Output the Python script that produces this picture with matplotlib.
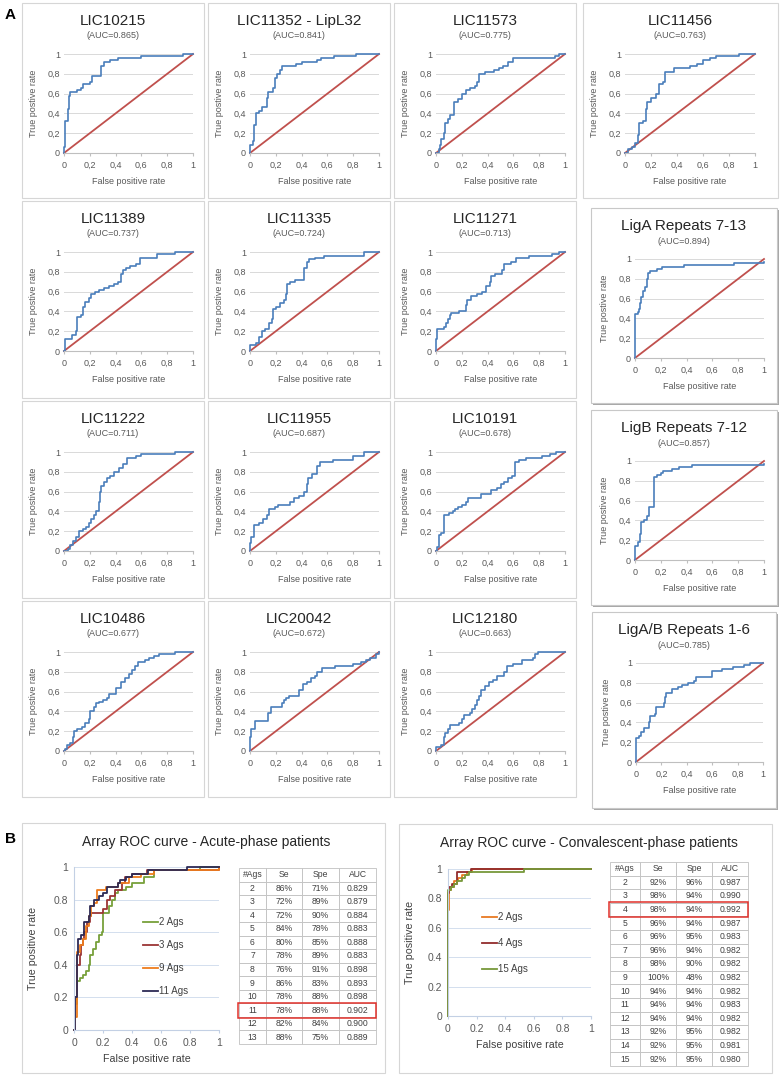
import matplotlib.pyplot as plt
from matplotlib.patches import Rectangle

plt.rcParams['font.family'] = ['Liberation Sans', 'DejaVu Sans']

W, H = 780, 1078

# ---------------- Panel A: curvas ROC por antigeno (fpr, tpr) ----------------
lic10215_fpr = [0, 0, 0.01, 0.03, 0.04, 0.05, 0.10, 0.13, 0.15, 0.20, 0.22, 0.29, 0.31, 0.36, 0.42, 0.60, 0.92, 1]
lic10215_tpr = [0, 0.06, 0.32, 0.44, 0.58, 0.62, 0.64, 0.66, 0.70, 0.72, 0.78, 0.88, 0.92, 0.94, 0.96, 0.98, 1.0, 1]

lic11352_fpr = [0, 0, 0.02, 0.03, 0.05, 0.07, 0.09, 0.13, 0.14, 0.18, 0.19, 0.21, 0.23, 0.25, 0.36, 0.40, 0.52, 0.55, 0.65, 0.82, 1]
lic11352_tpr = [0, 0.08, 0.12, 0.28, 0.40, 0.42, 0.46, 0.56, 0.62, 0.66, 0.76, 0.80, 0.84, 0.88, 0.90, 0.92, 0.94, 0.96, 0.98, 1.0, 1]

lic11573_fpr = [0, 0.02, 0.03, 0.04, 0.06, 0.07, 0.09, 0.11, 0.14, 0.14, 0.17, 0.20, 0.23, 0.26, 0.30, 0.32, 0.33,
                0.38, 0.45, 0.49, 0.52, 0.56, 0.60, 0.92, 0.95, 1]
lic11573_tpr = [0, 0.04, 0.08, 0.14, 0.20, 0.30, 0.34, 0.38, 0.40, 0.52, 0.55, 0.60, 0.64, 0.66, 0.68, 0.72, 0.80,
                0.82, 0.84, 0.86, 0.88, 0.92, 0.96, 0.98, 1.0, 1]

lic11456_fpr = [0, 0.02, 0.05, 0.08, 0.10, 0.11, 0.14, 0.16, 0.17, 0.20, 0.24, 0.26, 0.29, 0.31, 0.38, 0.50, 0.55,
                0.60, 0.65, 0.70, 0.88, 1]
lic11456_tpr = [0, 0.04, 0.06, 0.10, 0.18, 0.30, 0.32, 0.44, 0.52, 0.56, 0.60, 0.70, 0.72, 0.82, 0.86, 0.88, 0.90,
                0.94, 0.96, 0.98, 1.0, 1]

lic11389_fpr = [0, 0.01, 0.06, 0.09, 0.10, 0.13, 0.15, 0.16, 0.19, 0.21, 0.24, 0.27, 0.31, 0.35, 0.39, 0.42, 0.44,
                0.46, 0.48, 0.51, 0.56, 0.59, 0.72, 0.86, 1]
lic11389_tpr = [0, 0.12, 0.16, 0.20, 0.34, 0.36, 0.44, 0.50, 0.54, 0.58, 0.60, 0.62, 0.64, 0.66, 0.68, 0.70, 0.78,
                0.82, 0.84, 0.86, 0.88, 0.94, 0.98, 1.0, 1]

lic11335_fpr = [0, 0, 0.05, 0.07, 0.09, 0.12, 0.15, 0.17, 0.18, 0.20, 0.23, 0.26, 0.28, 0.29, 0.31, 0.35, 0.42,
                0.44, 0.46, 0.50, 0.57, 0.88, 1]
lic11335_tpr = [0, 0.06, 0.08, 0.14, 0.20, 0.22, 0.28, 0.32, 0.42, 0.44, 0.48, 0.52, 0.58, 0.68, 0.70, 0.72, 0.84,
                0.90, 0.93, 0.94, 0.96, 1.0, 1]

lic11271_fpr = [0, 0, 0.01, 0.06, 0.08, 0.09, 0.11, 0.12, 0.18, 0.23, 0.24, 0.27, 0.32, 0.36, 0.39, 0.42, 0.43,
                0.46, 0.51, 0.53, 0.58, 0.62, 0.72, 0.90, 0.95, 1]
lic11271_tpr = [0, 0.12, 0.22, 0.24, 0.28, 0.32, 0.36, 0.38, 0.40, 0.46, 0.52, 0.56, 0.58, 0.60, 0.66, 0.70, 0.76,
                0.78, 0.82, 0.88, 0.90, 0.94, 0.96, 0.98, 1.0, 1]

lic11222_fpr = [0, 0.03, 0.05, 0.07, 0.09, 0.12, 0.15, 0.17, 0.19, 0.21, 0.23, 0.25, 0.27, 0.28, 0.29, 0.31, 0.33,
                0.36, 0.39, 0.43, 0.46, 0.49, 0.56, 0.60, 0.86, 1]
lic11222_tpr = [0, 0.02, 0.06, 0.10, 0.14, 0.20, 0.22, 0.24, 0.28, 0.32, 0.36, 0.40, 0.50, 0.60, 0.66, 0.70, 0.74,
                0.76, 0.80, 0.84, 0.88, 0.94, 0.96, 0.98, 1.0, 1]

lic11955_fpr = [0, 0, 0.01, 0.03, 0.03, 0.07, 0.10, 0.13, 0.15, 0.19, 0.22, 0.31, 0.34, 0.38, 0.42, 0.44, 0.45,
                0.48, 0.52, 0.54, 0.64, 0.80, 0.88, 1]
lic11955_tpr = [0, 0.08, 0.14, 0.16, 0.26, 0.28, 0.32, 0.36, 0.42, 0.44, 0.46, 0.50, 0.54, 0.56, 0.60, 0.68, 0.74,
                0.78, 0.86, 0.90, 0.92, 0.96, 1.0, 1]

lic10191_fpr = [0, 0.01, 0.02, 0.04, 0.06, 0.10, 0.13, 0.15, 0.17, 0.20, 0.23, 0.25, 0.35, 0.43, 0.47, 0.50, 0.53,
                0.56, 0.59, 0.61, 0.64, 0.70, 0.82, 0.88, 0.93, 1]
lic10191_tpr = [0, 0.04, 0.16, 0.18, 0.36, 0.38, 0.40, 0.42, 0.44, 0.46, 0.50, 0.54, 0.58, 0.62, 0.64, 0.68, 0.70,
                0.74, 0.76, 0.90, 0.92, 0.94, 0.96, 0.98, 1.0, 1]

lic10486_fpr = [0, 0.01, 0.02, 0.05, 0.07, 0.08, 0.10, 0.14, 0.16, 0.19, 0.20, 0.23, 0.25, 0.27, 0.30, 0.33, 0.35,
                0.40, 0.44, 0.47, 0.50, 0.53, 0.55, 0.57, 0.63, 0.66, 0.70, 0.74, 0.86, 1]
lic10486_tpr = [0, 0.02, 0.06, 0.08, 0.14, 0.20, 0.22, 0.24, 0.28, 0.32, 0.40, 0.44, 0.48, 0.50, 0.52, 0.54, 0.58,
                0.64, 0.70, 0.74, 0.78, 0.82, 0.86, 0.90, 0.92, 0.94, 0.96, 0.98, 1.0, 1]

lic20042_fpr = [0, 0, 0.01, 0.04, 0.14, 0.16, 0.25, 0.26, 0.28, 0.30, 0.38, 0.41, 0.44, 0.47, 0.50, 0.52, 0.56,
                0.66, 0.80, 0.86, 0.90, 0.93, 0.98, 1]
lic20042_tpr = [0, 0.14, 0.22, 0.30, 0.38, 0.44, 0.48, 0.52, 0.54, 0.56, 0.62, 0.68, 0.70, 0.74, 0.76, 0.80, 0.84,
                0.86, 0.88, 0.90, 0.92, 0.94, 0.98, 1]

lic12180_fpr = [0, 0, 0.04, 0.06, 0.07, 0.09, 0.11, 0.18, 0.20, 0.22, 0.26, 0.28, 0.30, 0.32, 0.33, 0.35, 0.38,
                0.41, 0.44, 0.47, 0.53, 0.55, 0.60, 0.67, 0.75, 0.77, 0.79, 1]
lic12180_tpr = [0, 0.04, 0.06, 0.14, 0.18, 0.22, 0.26, 0.28, 0.32, 0.36, 0.38, 0.42, 0.46, 0.52, 0.56, 0.62, 0.66,
                0.70, 0.72, 0.76, 0.80, 0.86, 0.88, 0.92, 0.94, 0.98, 1.0, 1]

liga713_fpr = [0, 0, 0.02, 0.03, 0.04, 0.05, 0.06, 0.08, 0.09, 0.10, 0.12, 0.17, 0.21, 0.38, 0.77, 1]
liga713_tpr = [0, 0.44, 0.46, 0.50, 0.56, 0.62, 0.68, 0.72, 0.80, 0.86, 0.88, 0.90, 0.92, 0.94, 0.96, 0.97]

ligb712_fpr = [0, 0, 0.02, 0.04, 0.05, 0.07, 0.09, 0.11, 0.15, 0.17, 0.20, 0.22, 0.29, 0.34, 0.44, 1]
ligb712_tpr = [0, 0.14, 0.18, 0.26, 0.38, 0.40, 0.44, 0.54, 0.84, 0.86, 0.88, 0.90, 0.92, 0.94, 0.96, 0.97]

ligab16_fpr = [0, 0, 0.02, 0.04, 0.06, 0.10, 0.11, 0.15, 0.16, 0.22, 0.23, 0.24, 0.28, 0.33, 0.36, 0.41, 0.46,
               0.47, 0.60, 0.60, 0.68, 0.76, 0.85, 0.90, 1]
ligab16_tpr = [0, 0.24, 0.26, 0.30, 0.34, 0.40, 0.46, 0.48, 0.56, 0.60, 0.66, 0.70, 0.74, 0.76, 0.78, 0.80, 0.82,
               0.86, 0.88, 0.92, 0.94, 0.96, 0.98, 1.0, 1]

antigenos = ['LIC10215', 'LIC11352 - LipL32', 'LIC11573', 'LIC11456',
             'LIC11389', 'LIC11335', 'LIC11271', 'LigA Repeats 7-13',
             'LIC11222', 'LIC11955', 'LIC10191', 'LigB Repeats 7-12',
             'LIC10486', 'LIC20042', 'LIC12180', 'LigA/B Repeats 1-6']
auc_antigenos = [0.865, 0.841, 0.775, 0.763, 0.737, 0.724, 0.713, 0.894,
                 0.711, 0.687, 0.678, 0.857, 0.677, 0.672, 0.663, 0.785]
curvas = [(lic10215_fpr, lic10215_tpr), (lic11352_fpr, lic11352_tpr), (lic11573_fpr, lic11573_tpr),
          (lic11456_fpr, lic11456_tpr), (lic11389_fpr, lic11389_tpr), (lic11335_fpr, lic11335_tpr),
          (lic11271_fpr, lic11271_tpr), (liga713_fpr, liga713_tpr), (lic11222_fpr, lic11222_tpr),
          (lic11955_fpr, lic11955_tpr), (lic10191_fpr, lic10191_tpr), (ligb712_fpr, ligb712_tpr),
          (lic10486_fpr, lic10486_tpr), (lic20042_fpr, lic20042_tpr), (lic12180_fpr, lic12180_tpr),
          (ligab16_fpr, ligab16_tpr)]

# ---------------- Panel B: curvas combinadas ----------------
agudo_2_fpr = [0, 0.01, 0.02, 0.04, 0.06, 0.08, 0.10, 0.11, 0.13, 0.15, 0.17, 0.19, 0.20, 0.24, 0.26, 0.28, 0.30,
               0.36, 0.40, 0.48, 0.55, 0.87, 1]
agudo_2_tpr = [0, 0.16, 0.30, 0.32, 0.34, 0.36, 0.40, 0.46, 0.50, 0.54, 0.58, 0.60, 0.72, 0.76, 0.80, 0.84, 0.86,
               0.88, 0.90, 0.94, 0.98, 1.0, 1]
agudo_3_fpr = [0, 0.01, 0.02, 0.04, 0.05, 0.06, 0.07, 0.09, 0.11, 0.12, 0.20, 0.23, 0.25, 0.28, 0.33, 0.35, 0.40,
               0.50, 0.87, 1]
agudo_3_tpr = [0, 0.20, 0.40, 0.46, 0.52, 0.56, 0.60, 0.66, 0.70, 0.72, 0.74, 0.80, 0.82, 0.86, 0.90, 0.94, 0.96,
               0.98, 0.98, 1]
agudo_9_fpr = [0, 0.01, 0.02, 0.02, 0.04, 0.06, 0.08, 0.10, 0.12, 0.14, 0.16, 0.22, 0.30, 0.38, 0.46, 0.55, 0.88, 1]
agudo_9_tpr = [0, 0.08, 0.26, 0.48, 0.52, 0.56, 0.64, 0.70, 0.76, 0.78, 0.86, 0.88, 0.90, 0.94, 0.96, 0.98, 0.98, 1]
agudo_11_fpr = [0, 0.01, 0.02, 0.03, 0.05, 0.07, 0.10, 0.11, 0.14, 0.17, 0.20, 0.23, 0.30, 0.32, 0.36, 0.40, 0.51,
                0.78, 1]
agudo_11_tpr = [0, 0.20, 0.46, 0.56, 0.58, 0.66, 0.70, 0.76, 0.80, 0.82, 0.84, 0.88, 0.90, 0.92, 0.94, 0.96, 0.98,
                1.0, 1]

conv_2_fpr = [0, 0, 0.01, 0.02, 0.04, 0.07, 0.10, 0.13, 0.17, 1]
conv_2_tpr = [0, 0.72, 0.86, 0.88, 0.92, 0.94, 0.96, 0.98, 1.0, 1]
conv_4_fpr = [0, 0, 0.01, 0.03, 0.06, 0.10, 0.16, 1]
conv_4_tpr = [0, 0.84, 0.88, 0.90, 0.98, 0.98, 1.0, 1]
conv_15_fpr = [0, 0, 0.02, 0.04, 0.06, 0.10, 0.12, 0.15, 0.53, 1]
conv_15_tpr = [0, 0.86, 0.88, 0.90, 0.92, 0.94, 0.96, 0.98, 1.0, 1]

# tablas
agudo_ags = [2, 3, 4, 5, 6, 7, 8, 9, 10, 11, 12, 13]
agudo_se = [86, 72, 72, 84, 80, 78, 76, 86, 78, 78, 82, 88]
agudo_spe = [71, 89, 90, 78, 85, 89, 91, 83, 88, 88, 84, 75]
agudo_auc = [0.829, 0.879, 0.884, 0.883, 0.888, 0.883, 0.898, 0.893, 0.898, 0.902, 0.900, 0.889]

conv_ags = [2, 3, 4, 5, 6, 7, 8, 9, 10, 11, 12, 13, 14, 15]
conv_se = [92, 98, 98, 96, 96, 96, 98, 100, 94, 94, 94, 92, 92, 92]
conv_spe = [96, 94, 94, 94, 95, 94, 90, 48, 94, 94, 94, 95, 95, 95]
conv_auc = [0.987, 0.990, 0.992, 0.987, 0.983, 0.982, 0.982, 0.982, 0.982, 0.983, 0.982, 0.982, 0.981, 0.980]

GRIS = '#595959'
AZUL = '#4a7ebb'
ROJO = '#c0504d'

fig = plt.figure(figsize=(W / 100, H / 100), dpi=100)


def rect_fig(l, t, r, b):
    # pixeles (origen arriba-izquierda) -> fracciones de figura
    return [l / W, 1 - b / H, (r - l) / W, (b - t) / H]


def caja(l, t, r, b, sombra=False):
    if sombra:
        fig.add_artist(Rectangle(((l + 2) / W, 1 - (b + 2) / H), (r - l) / W, (b - t) / H,
                                 transform=fig.transFigure, fc='#a8a8a8', ec='none', zorder=-6))
    fig.add_artist(Rectangle((l / W, 1 - b / H), (r - l) / W, (b - t) / H, transform=fig.transFigure,
                             fc='white', ec='#c8c8c8' if sombra else '#d6d6d6', lw=0.8, zorder=-5))


def panel_roc(box, nombre, auc, fpr, tpr, izq, der, sombra=False):
    l, t, r, b = box
    caja(l, t, r, b, sombra)
    ax = fig.add_axes(rect_fig(l + izq, t + 51, r - der, t + 150))
    ax.plot([0, 1], [0, 1], color=ROJO, lw=1.3, clip_on=False)
    ax.plot(fpr, tpr, drawstyle='steps-post', color=AZUL, lw=1.2, clip_on=False)
    ax.set_xlim(0, 1)
    ax.set_ylim(0, 1)
    ticks = [0, 0.2, 0.4, 0.6, 0.8, 1]
    etiquetas = ['0', '0,2', '0,4', '0,6', '0,8', '1']
    ax.set_xticks(ticks, etiquetas)
    ax.set_yticks(ticks, etiquetas)
    ax.grid(axis='y', color='#d9d9d9', lw=0.7)
    ax.set_axisbelow(True)
    for s in ['top', 'right', 'left']:
        ax.spines[s].set_visible(False)
    ax.spines['bottom'].set_color('#bfbfbf')
    ax.tick_params(axis='y', length=0, pad=3, labelsize=6.5, labelcolor=GRIS)
    ax.tick_params(axis='x', length=2.5, color='#bfbfbf', pad=3, labelsize=6.5, labelcolor=GRIS)
    ax.set_xlabel('False positive rate', fontsize=6.5, color=GRIS)
    ax.xaxis.set_label_coords(0.5, -0.24)
    ax.set_ylabel('True postive rate', fontsize=6.5, color=GRIS)
    ax.yaxis.set_label_coords(-0.2, 0.5)
    cx = (l + r) / 2
    fig.text(cx / W, 1 - (t + 18) / H, nombre, ha='center', va='center', fontsize=11, color='#262626')
    fig.text(cx / W, 1 - (t + 33) / H, f'(AUC={auc:.3f})', ha='center', va='center', fontsize=6.5, color=GRIS)


# posiciones de las cajas del panel A (pixeles)
cajas_a = [(22, 3, 204, 198), (208, 3, 390, 198), (394, 3, 576, 198), (583, 3, 778, 198),
           (22, 201, 204, 398), (208, 201, 390, 398), (394, 201, 576, 398), (591, 208, 777, 403),
           (22, 401, 204, 598), (208, 401, 390, 598), (394, 401, 576, 598), (591, 410, 777, 605),
           (22, 601, 204, 797), (208, 601, 390, 797), (394, 601, 576, 797), (592, 612, 776, 808)]

for i, (nombre, auc, (fpr, tpr)) in enumerate(zip(antigenos, auc_antigenos, curvas)):
    col = i % 4
    if i == 3:
        izq, der, sombra = 42, 23, False
    elif col == 3:
        izq, der, sombra = 44, 13, True
    else:
        izq, der, sombra = 42, 11, False
    panel_roc(cajas_a[i], nombre, auc, fpr, tpr, izq, der, sombra)

fig.text(10 / W, 1 - 15 / H, 'A', ha='center', va='center', fontsize=11, fontweight='bold')
fig.text(10 / W, 1 - 839 / H, 'B', ha='center', va='center', fontsize=11, fontweight='bold')


def panel_b(box, ax_box, titulo, series, colores, etiquetas_ley, ley_xy, ley_esp, ylab_x, xlab_y):
    l, t, r, b = box
    caja(l, t, r, b)
    fig.text((l + r) / 2 / W + 0.004, 1 - (t + 19) / H, titulo, ha='center', va='center', fontsize=10,
             color='#262626')
    ax = fig.add_axes(rect_fig(*ax_box))
    for (fpr, tpr), c, lab in zip(series, colores, etiquetas_ley):
        ax.plot(fpr, tpr, drawstyle='steps-post', color=c, lw=1.3, label=lab, clip_on=False)
    ax.set_xlim(0, 1)
    ax.set_ylim(0, 1)
    ticks = [0, 0.2, 0.4, 0.6, 0.8, 1]
    etiquetas = ['0', '0.2', '0.4', '0.6', '0.8', '1']
    ax.set_xticks(ticks, etiquetas)
    ax.set_yticks(ticks, etiquetas)
    ax.grid(axis='y', color='#d3deee', lw=0.7)
    ax.set_axisbelow(True)
    for s in ['top', 'right']:
        ax.spines[s].set_visible(False)
    for s in ['left', 'bottom']:
        ax.spines[s].set_color('#c3d0e4')
    ax.tick_params(axis='y', length=0, pad=4, labelsize=7.5, labelcolor=GRIS)
    ax.tick_params(axis='x', length=2.5, color='#c3d0e4', pad=3, labelsize=7.5, labelcolor=GRIS)
    ax.set_xlabel('False positive rate', fontsize=7.7, color='#404040')
    ax.xaxis.set_label_coords(0.5, xlab_y)
    ax.set_ylabel('True positive rate', fontsize=7.7, color='#404040')
    ax.yaxis.set_label_coords(ylab_x, 0.5)
    ax.legend(loc='upper left', bbox_to_anchor=(ley_xy[0] / W, 1 - ley_xy[1] / H),
              bbox_transform=fig.transFigure, frameon=False, fontsize=7, handlelength=1.5,
              handletextpad=0.1, labelspacing=ley_esp, borderpad=0, borderaxespad=0,
              labelcolor='#404040')
    return ax


def tabla(ax_box, ags, se, spe, auc, resaltar, anchos):
    ax = fig.add_axes(rect_fig(*ax_box))
    ax.axis('off')
    filas = [[str(a), f'{s}%', f'{p}%', f'{u:.3f}'] for a, s, p, u in zip(ags, se, spe, auc)]
    tb = ax.table(cellText=filas, colLabels=['#Ags', 'Se', 'Spe', 'AUC'], colWidths=anchos,
                  cellLoc='center', bbox=[0, 0, 1, 1])
    tb.auto_set_font_size(False)
    tb.set_fontsize(6.2)
    for cell in tb.get_celld().values():
        cell.set_edgecolor('#c0c0c0')
        cell.set_linewidth(0.6)
        cell.get_text().set_color('#404040')
    n = len(filas) + 1
    i = ags.index(resaltar) + 1
    ax.add_patch(Rectangle((-0.01, 1 - (i + 1) / n - 0.004), 1.01, 1 / n + 0.008, fill=False,
                           ec='#e0302a', lw=1.1, clip_on=False, transform=ax.transAxes))


panel_b((22, 823, 385, 1073), (74, 867, 219, 1030), 'Array ROC curve - Acute-phase patients',
        [(agudo_2_fpr, agudo_2_tpr), (agudo_3_fpr, agudo_3_tpr), (agudo_9_fpr, agudo_9_tpr),
         (agudo_11_fpr, agudo_11_tpr)],
        ['#77a03a', '#9b3535', '#ee7d1e', '#2d2a55'], ['2 Ags', '3 Ags', '9 Ags', '11 Ags'],
        (143, 917), 1.35, -0.25, -0.15)
tabla((239, 868, 376, 1044), agudo_ags, agudo_se, agudo_spe, agudo_auc, 11, [27, 36, 37, 37])

panel_b((399, 824, 772, 1073), (448, 869, 591, 1016), 'Array ROC curve - Convalescent-phase patients',
        [(conv_2_fpr, conv_2_tpr), (conv_4_fpr, conv_4_tpr), (conv_15_fpr, conv_15_tpr)],
        ['#e87a22', '#922c2c', '#77993a'], ['2 Ags', '4 Ags', '15 Ags'],
        (482, 912), 1.65, -0.23, -0.16)
tabla((610, 862, 748, 1066), conv_ags, conv_se, conv_spe, conv_auc, 4, [30, 36, 36, 36])

fig.savefig('out.png', dpi=100, facecolor='white')
